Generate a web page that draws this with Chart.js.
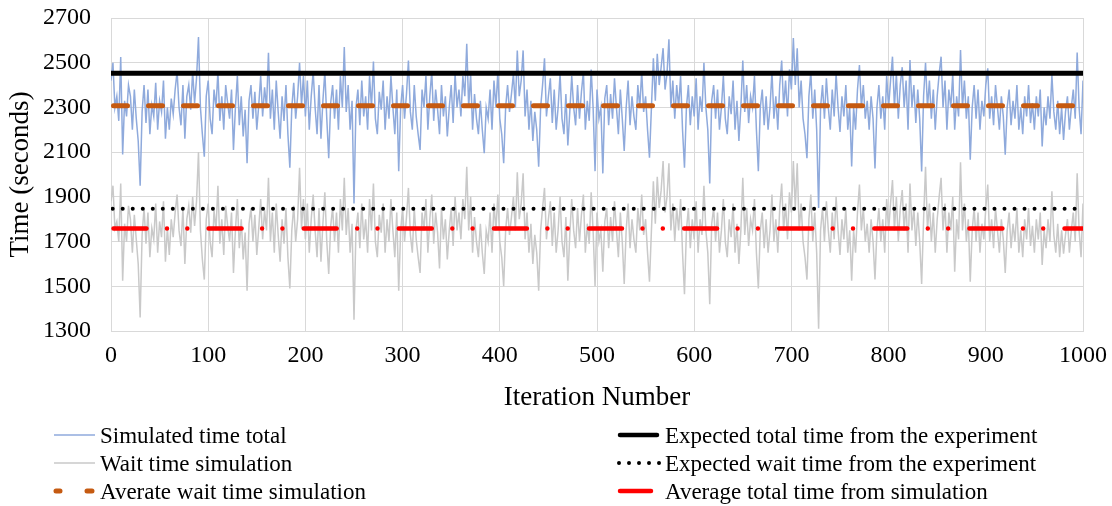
<!DOCTYPE html>
<html><head><meta charset="utf-8">
<script src="https://cdn.jsdelivr.net/npm/chart.js@4.4.1/dist/chart.umd.min.js"></script>
<style>html,body{margin:0;padding:0;background:#fff}#wrap{width:1112px;height:506px;position:relative}</style>
</head><body><div id="wrap"><canvas id="c" width="1112" height="506"></canvas></div>
<script>
// Iteration step between sampled points (x positions 0..1000)
const iterationStep = 2;

// Simulated time total (blue), one value every 2 iterations
const simulatedTotal = [
2420,2500,2300,2350,2240,2525,2090,2330,2260,2400,2350,2200,2380,2250,2150,1950,2280,2400,2230,2380,2180,2310,2260,2410,2200,
2330,2280,2420,2160,2300,2200,2340,2270,2380,2460,2300,2220,2400,2160,2350,2400,2290,2460,2320,2430,2615,2300,2180,2080,2350,
2420,2250,2180,2380,2300,2460,2240,2350,2200,2400,2320,2250,2380,2110,2300,2440,2220,2350,2170,2290,2050,2330,2400,2250,2370,
2200,2310,2440,2260,2390,2300,2545,2250,2380,2200,2420,2280,2160,2350,2240,2400,2180,2030,2300,2410,2250,2350,2500,2310,2440,
2260,2420,2200,2350,2460,2300,2180,2400,2160,2330,2460,2250,2073,2320,2400,2250,2380,2200,2440,2300,2570,2280,2400,2200,2330,
1870,2300,2380,2220,2420,2260,2350,2200,2440,2300,2505,2250,2180,2370,2290,2420,2200,2350,2250,2440,2300,2180,2380,2015,2300,
2400,2250,2360,2510,2280,2200,2400,2260,2180,2110,2380,2300,2440,2200,2350,2460,2240,2380,2290,2180,2400,2260,2350,2170,2300,
2400,2230,2450,2300,2380,2260,2440,2350,2585,2300,2450,2200,2360,2250,2180,2330,2200,2095,2300,2250,2380,2200,2420,2300,2460,
2250,2180,2050,2300,2400,2280,2360,2450,2300,2555,2350,2420,2555,2260,2380,2200,2330,2150,2280,2200,2035,2300,2400,2520,2260,
2350,2430,2230,2380,2200,2300,2450,2250,2180,2360,2130,2280,2440,2300,2220,2400,2250,2370,2460,2200,2330,2240,2470,2300,2015,
2380,2250,2300,2005,2340,2400,2220,2360,2250,2430,2300,2180,2380,2250,2105,2300,2420,2220,2350,2260,2200,2400,2300,2460,2280,
2350,2200,2075,2300,2520,2330,2540,2400,2480,2565,2380,2450,2605,2300,2420,2250,2400,2300,2440,2200,2030,2300,2400,2220,2350,
2260,2430,2200,2350,2280,2500,2300,2200,1960,2330,2400,2250,2380,2200,2300,2440,2250,2180,2350,2270,2420,2200,2330,2150,2300,
2510,2280,2400,2230,2350,2300,2440,2200,2015,2300,2380,2220,2350,2200,2300,2460,2250,2350,2200,2400,2510,2300,2420,2260,2470,
2380,2610,2400,2565,2300,2420,2250,2180,2073,2350,2460,2250,2380,2200,1850,2300,2400,2250,2430,2300,2200,2380,2260,2450,2300,
2190,2350,2260,2400,2200,2300,2036,2300,2200,2380,2490,2300,2400,2250,2330,2200,2350,2250,2027,2300,2400,2250,2350,2200,2440,
2300,2420,2527,2300,2450,2250,2400,2480,2300,2420,2200,2512,2300,2400,2230,2380,2250,2014,2350,2500,2300,2420,2250,2380,2200,
2350,2450,2527,2300,2420,2200,2380,2300,2450,2200,2350,2260,2557,2300,2420,2250,2350,2066,2300,2400,2250,2380,2200,2330,2260,
2400,2475,2250,2350,2220,2400,2300,2200,2350,2260,2089,2300,2380,2220,2330,2250,2400,2200,2300,2180,2350,2260,2400,2230,2320,
2200,2350,2260,2380,2125,2300,2220,2350,2250,2445,2280,2200,2330,2180,2300,2155,2280,2350,2200,2300,2380,2250,2546,2300,2180,
2420];

// Wait time simulation (gray), one value every 2 iterations
const waitSimulation = [
1880,1950,1760,1790,1700,1960,1525,1780,1700,1860,1800,1650,1820,1710,1600,1360,1730,1850,1690,1830,1630,1760,1710,1870,1650,
1790,1720,1880,1610,1760,1640,1800,1720,1830,1910,1750,1680,1850,1600,1800,1860,1740,1900,1770,1880,2100,1750,1620,1530,1800,
1870,1700,1630,1840,1750,1950,1690,1800,1640,1860,1770,1700,1830,1560,1750,1890,1670,1800,1620,1740,1480,1780,1850,1700,1820,
1640,1760,1890,1710,1840,1750,1985,1700,1830,1650,1870,1730,1610,1800,1690,1850,1630,1490,1750,1860,1700,1800,2030,1760,1890,
1710,1870,1650,1800,1910,1750,1630,1850,1610,1780,1920,1700,1555,1770,1850,1700,1830,1650,1890,1750,1985,1730,1850,1650,1780,
1350,1750,1830,1670,1870,1710,1800,1650,1890,1750,1960,1700,1630,1820,1740,1870,1650,1800,1700,1890,1750,1630,1830,1480,1750,
1850,1700,1810,1940,1730,1650,1850,1710,1630,1560,1830,1750,1890,1650,1800,1910,1690,1830,1740,1580,1850,1710,1800,1620,1750,
1850,1680,1900,1750,1830,1710,1890,1800,2035,1750,1900,1650,1810,1700,1630,1780,1650,1555,1750,1700,1830,1650,1870,1750,1910,
1700,1630,1500,1750,1850,1730,1810,1900,1750,2010,1800,1870,2005,1710,1830,1650,1780,1600,1730,1650,1480,1750,1850,1940,1710,
1800,1880,1680,1830,1650,1750,1900,1700,1630,1810,1525,1730,1890,1750,1670,1850,1700,1820,1910,1650,1780,1690,1920,1750,1500,
1830,1700,1750,1565,1790,1850,1670,1810,1700,1880,1750,1630,1830,1700,1510,1750,1870,1670,1800,1710,1650,1850,1750,1910,1730,
1800,1650,1520,1750,1970,1780,1990,1850,1930,2060,1830,1900,2050,1750,1870,1700,1850,1750,1890,1650,1465,1750,1850,1670,1800,
1710,1880,1650,1800,1730,1950,1750,1650,1420,1780,1850,1700,1830,1650,1750,1890,1700,1630,1800,1720,1870,1650,1780,1600,1750,
1985,1730,1850,1680,1800,1750,1890,1650,1490,1750,1830,1670,1800,1650,1750,1910,1700,1800,1650,1850,1960,1750,1870,1710,1920,
1830,2060,1850,2050,1750,1870,1700,1630,1530,1800,1910,1700,1830,1650,1310,1750,1850,1700,1880,1750,1650,1830,1710,1900,1750,
1640,1800,1710,1850,1650,1750,1525,1750,1650,1830,1955,1750,1850,1700,1780,1650,1800,1700,1530,1750,1850,1700,1800,1650,1890,
1750,1870,1975,1750,1900,1700,1850,1930,1750,1870,1650,1960,1750,1850,1680,1830,1700,1510,1800,2035,1750,1870,1700,1830,1650,
1800,1900,1985,1750,1870,1650,1830,1750,1900,1565,1800,1710,2055,1750,1870,1700,1800,1520,1750,1850,1700,1830,1650,1780,1710,
1850,1955,1700,1800,1670,1850,1750,1650,1800,1710,1560,1750,1830,1670,1780,1700,1850,1650,1750,1630,1800,1710,1850,1680,1770,
1650,1800,1710,1830,1595,1750,1670,1800,1700,1925,1730,1650,1780,1630,1750,1646,1730,1800,1650,1750,1830,1700,2005,1750,1630,
1870];

// Constant reference levels
const expectedTotalTime = 2453;
const averageWaitSim = 2308;     // orange dashed
const expectedWaitTime = 1847;
const averageTotalSim = 1758;    // red dash-dot-dot

const xRange = [0, 1000];
const yRange = [1300, 2700];
const xTickStep = 100;
const yTickStep = 200;

const seriesNames = [
  'Simulated time total',
  'Wait time simulation',
  'Averate wait time simulation',
  'Expected total time from the experiment',
  'Expected wait time from the experiment',
  'Average total time from simulation'
];

const toXY = arr => arr.map((v, i) => ({x: i * iterationStep, y: v}));
const flat = v => [{x: xRange[0], y: v}, {x: xRange[1], y: v}];

const FONT = "'Liberation Serif', 'Times New Roman', serif";

const legendItems = [
  {col:0,row:0,name:seriesNames[0],color:'#8FAADC',w:1.5,kind:'solid'},
  {col:0,row:1,name:seriesNames[1],color:'#C9C9C9',w:1.5,kind:'solid'},
  {col:0,row:2,name:seriesNames[2],color:'#C55A11',w:5,kind:'twodash'},
  {col:1,row:0,name:seriesNames[3],color:'#000000',w:4.5,kind:'solid'},
  {col:1,row:1,name:seriesNames[4],color:'#000000',w:4,kind:'dots'},
  {col:1,row:2,name:seriesNames[5],color:'#FF0000',w:4.5,kind:'short'}
];

const legendPlugin = {
  id: 'customLegend',
  afterDraw(chart) {
    const ctx = chart.ctx;
    const rowsY = [435, 463, 491];
    const cols = [{x0:54, x1:95, tx:100}, {x0:618, x1:659, tx:665}];
    ctx.save();
    legendItems.forEach(it => {
      const c = cols[it.col], y = rowsY[it.row];
      ctx.strokeStyle = it.color;
      ctx.lineWidth = it.w;
      ctx.setLineDash([]);
      if (it.kind === 'solid') {
        ctx.lineCap = it.w > 3 ? 'round' : 'butt';
        ctx.beginPath(); ctx.moveTo(c.x0 + (it.w>3?2:0), y); ctx.lineTo(c.x1 - (it.w>3?2:0), y); ctx.stroke();
      } else if (it.kind === 'twodash') {
        ctx.lineCap = 'round';
        ctx.beginPath(); ctx.moveTo(c.x0 + 2, y); ctx.lineTo(c.x0 + 6, y);
        ctx.moveTo(c.x1 - 8, y); ctx.lineTo(c.x1 - 3, y); ctx.stroke();
      } else if (it.kind === 'dots') {
        ctx.lineCap = 'round';
        ctx.setLineDash([0, 10]);
        ctx.beginPath(); ctx.moveTo(c.x0 + 1, y); ctx.lineTo(c.x1 + 1, y); ctx.stroke();
      } else if (it.kind === 'short') {
        ctx.lineCap = 'round';
        ctx.beginPath(); ctx.moveTo(c.x0 + 2, y); ctx.lineTo(c.x1 - 8, y); ctx.stroke();
      }
      ctx.setLineDash([]);
      ctx.fillStyle = '#000';
      ctx.font = '23px ' + FONT;
      ctx.textBaseline = 'alphabetic';
      ctx.textAlign = 'left';
      ctx.fillText(it.name, c.tx, y + 8);
    });
    ctx.restore();
  }
};

new Chart(document.getElementById('c'), {
  type: 'line',
  data: {
    datasets: [
      {label: seriesNames[3], data: flat(expectedTotalTime), borderColor:'#000000', borderWidth:5, pointRadius:0},
      {label: seriesNames[2], data: flat(averageWaitSim), borderColor:'#C55A11', borderWidth:5, pointRadius:0,
        borderDash:[14,21], borderDashOffset:-2.5, borderCapStyle:'round'},
      {label: seriesNames[4], data: flat(expectedWaitTime), borderColor:'#000000', borderWidth:4, pointRadius:0,
        borderDash:[0,10.02], borderDashOffset:-1.7, borderCapStyle:'round'},
      {label: seriesNames[5], data: flat(averageTotalSim), borderColor:'#FF0000', borderWidth:4.5, pointRadius:0,
        borderDash:[33,20.5,0,20.3,0,21.3], borderDashOffset:-2.5, borderCapStyle:'round'},
      {label: seriesNames[0], data: toXY(simulatedTotal), borderColor:'#8FAADC', borderWidth:1.5, pointRadius:0, tension:0},
      {label: seriesNames[1], data: toXY(waitSimulation), borderColor:'#C9C9C9', borderWidth:1.5, pointRadius:0, tension:0}
    ]
  },
  options: {
    responsive: false,
    animation: false,
    events: [],
    layout: {padding: {left: 0, right: 29, top: 18, bottom: 91}},
    plugins: {legend: {display: false}, tooltip: {enabled: false}},
    scales: {
      x: {
        type: 'linear', min: xRange[0], max: xRange[1],
        ticks: {stepSize: xTickStep, padding: 10, color: '#000', font: {family: FONT, size: 24}, maxRotation: 0,
                callback: v => String(v)},
        grid: {color: '#D9D9D9', lineWidth: 1, drawTicks: false},
        border: {color: '#D9D9D9', width: 1},
        title: {display: true, text: 'Iteration Number', color: '#000', font: {family: FONT, size: 27}, padding: {top: 0, bottom: 1}},
        afterFit: s => { s.height = 84; s.paddingLeft = 0; s.paddingRight = 0; }
      },
      y: {
        type: 'linear', min: yRange[0], max: yRange[1],
        ticks: {stepSize: yTickStep, padding: 20, color: '#000', font: {family: FONT, size: 24},
                callback: v => String(v)},
        grid: {color: '#D9D9D9', lineWidth: 1, drawTicks: false},
        border: {color: '#D9D9D9', width: 1},
        title: {display: true, text: 'Time (seconds)', color: '#000', font: {family: FONT, size: 27}, padding: {top: 5, bottom: 0}},
        afterFit: s => { s.width = 111; s.paddingTop = 0; s.paddingBottom = 0; }
      }
    }
  },
  plugins: [legendPlugin]
});
</script>
</body></html>
